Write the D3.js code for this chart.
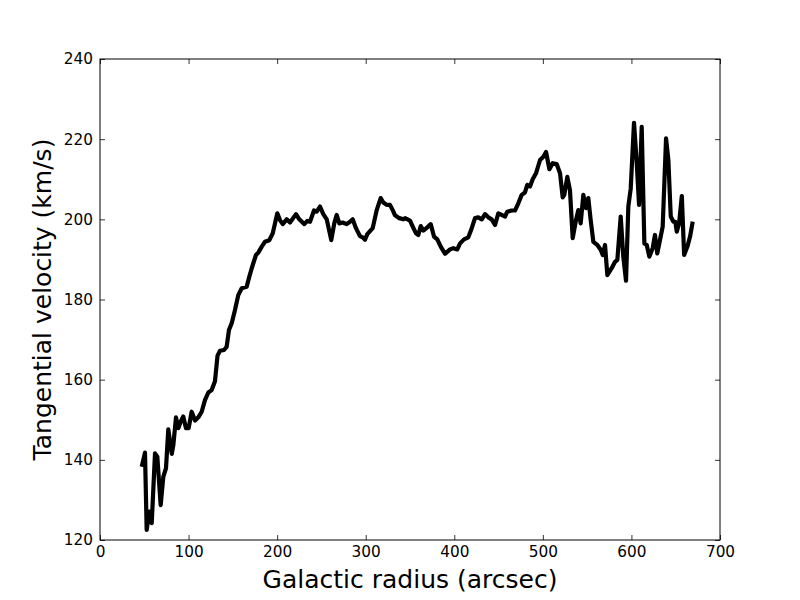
<!DOCTYPE html>
<html>
<head>
<meta charset="utf-8">
<script src="https://cdn.jsdelivr.net/npm/d3@7"></script>
<style>
  html, body { margin: 0; padding: 0; background: #fff; }
  svg { display: block; }
  text { font-family: "DejaVu Sans", sans-serif; fill: #000; }
</style>
</head>
<body>
<svg id="chart" width="800" height="600"></svg>
<script>
// ---- data ----
const radius = [
  47.1, 50.8, 52.7, 55.7, 58.4, 62.1, 64.7, 68.5, 71.5, 74.5,
  77.1, 81.0, 82.8, 85.8, 88.4, 91.1, 94.0, 97.1, 100.1, 103.5,
  107.3, 111.0, 114.8, 118.5, 122.3, 126.1, 129.8, 132.7, 135.5, 140.0,
  143.0, 145.6, 148.7, 152.4, 156.1, 160.0, 165.6, 168.6, 171.3, 176.1,
  178.7, 182.6, 186.3, 191.1, 195.0, 200.2, 203.2, 206.3, 210.8, 214.5,
  221.3, 225.0, 230.7, 234.1, 237.1, 241.6, 244.7, 248.4, 252.1, 256.0,
  261.1, 264.5, 267.2, 270.2, 274.0, 278.5, 282.3, 285.3, 289.0, 293.5,
  296.6, 299.2, 301.8, 307.9, 312.4, 316.9, 319.9, 323.7, 327.4, 330.5,
  333.1, 337.9, 342.4, 344.4, 350.0, 353.1, 356.8, 359.4, 362.1, 365.1,
  369.6, 373.4, 377.1, 380.8, 384.7, 389.5, 395.2, 398.9, 403.4, 406.5,
  411.0, 415.8, 419.7, 423.4, 427.1, 431.0, 434.7, 438.4, 442.2, 446.0,
  449.7, 453.5, 457.3, 459.8, 464.8, 468.5, 472.3, 476.1, 479.8, 482.4,
  485.5, 488.5, 492.3, 496.8, 500.6, 503.6, 507.4, 511.1, 515.6, 519.4,
  522.4, 524.2, 527.6, 530.6, 533.7, 537.4, 540.0, 542.7, 545.7, 548.7,
  551.3, 554.0, 557.0, 561.5, 565.3, 567.6, 570.2, 572.8, 577.7, 581.5,
  584.1, 587.9, 590.8, 593.9, 596.5, 599.2, 602.9, 605.9, 608.6, 611.6,
  614.6, 617.3, 620.2, 624.0, 626.6, 629.2, 632.3, 635.3, 639.1, 641.7,
  644.4, 647.4, 649.6, 651.2, 653.8, 656.9, 659.5, 663.2, 666.2, 669.2
];
const velocity = [
  138.3, 141.8, 122.5, 127.1, 124.2, 141.6, 140.8, 128.7, 135.8, 137.9,
  147.6, 141.5, 143.7, 150.6, 147.9, 149.5, 150.8, 147.9, 147.9, 152.0,
  149.8, 150.6, 152.0, 154.9, 156.8, 157.4, 159.6, 166.0, 167.2, 167.4,
  168.2, 172.4, 174.1, 177.4, 181.1, 182.8, 183.2, 185.7, 187.8, 191.1,
  191.7, 193.2, 194.4, 194.8, 196.5, 201.5, 199.8, 198.8, 200.0, 199.2,
  201.3, 200.0, 198.8, 199.6, 199.4, 202.2, 201.9, 203.2, 201.3, 200.0,
  194.8, 199.0, 201.1, 199.0, 199.2, 198.8, 199.4, 200.0, 197.8, 195.8,
  195.5, 194.9, 196.3, 197.8, 202.3, 205.3, 204.2, 203.6, 203.6, 202.3,
  201.0, 200.3, 200.0, 200.3, 199.7, 198.2, 196.5, 196.1, 198.3, 197.2,
  198.0, 198.8, 195.7, 195.0, 193.2, 191.4, 192.5, 192.8, 192.5, 194.0,
  195.0, 195.5, 197.8, 200.3, 200.5, 200.0, 201.3, 200.5, 200.0, 198.6,
  201.5, 201.1, 200.7, 201.9, 202.2, 202.2, 204.0, 206.1, 206.7, 208.6,
  208.2, 210.0, 211.5, 214.8, 215.6, 216.8, 212.5, 214.0, 213.8, 211.5,
  205.5, 206.1, 210.6, 207.3, 195.3, 199.8, 202.3, 199.0, 206.1, 202.8,
  205.3, 199.8, 194.4, 193.6, 192.4, 191.1, 193.6, 186.1, 187.8, 189.4,
  189.9, 200.7, 190.7, 184.7, 203.2, 207.7, 224.1, 214.4, 203.6, 223.1,
  194.0, 193.6, 190.7, 192.8, 196.1, 191.5, 194.9, 198.2, 220.2, 214.8,
  200.7, 199.4, 199.4, 196.9, 199.0, 205.8, 191.1, 193.2, 195.7, 199.4
];
const xTicks = [0, 100, 200, 300, 400, 500, 600, 700];
const yTicks = [120, 140, 160, 180, 200, 220, 240];
const xLabel = "Galactic radius (arcsec)";
const yLabel = "Tangential velocity (km/s)";

// ---- layout ----
const svg = d3.select("#chart");
const L = 100, R = 720, T = 59, B = 540;

const x = d3.scaleLinear().domain([0, 700]).range([L, R]);
const y = d3.scaleLinear().domain([120, 240]).range([B, T]);

const tickLen = 5;
const fmt = d3.format("d");

// Bottom axis (ticks inward)
const gB = svg.append("g").attr("transform", `translate(0,${B})`)
  .call(d3.axisBottom(x).tickValues(xTicks).tickFormat(fmt).tickSizeInner(-tickLen).tickSizeOuter(0).tickPadding(7));
// Top axis (ticks inward, no labels)
const gT = svg.append("g").attr("transform", `translate(0,${T})`)
  .call(d3.axisTop(x).tickValues(xTicks).tickFormat("").tickSizeInner(-tickLen).tickSizeOuter(0));
// Left axis
const gL = svg.append("g").attr("transform", `translate(${L},0)`)
  .call(d3.axisLeft(y).tickValues(yTicks).tickFormat(fmt).tickSizeInner(-tickLen).tickSizeOuter(0).tickPadding(7));
// Right axis
const gR = svg.append("g").attr("transform", `translate(${R},0)`)
  .call(d3.axisRight(y).tickValues(yTicks).tickFormat("").tickSizeInner(-tickLen).tickSizeOuter(0));

[gB, gT, gL, gR].forEach(g => {
  g.select(".domain").remove();
  g.selectAll(".tick line").attr("stroke", "#000").attr("stroke-width", 0.8);
  g.selectAll(".tick text")
    .style("font-family", "'DejaVu Sans', sans-serif")
    .style("font-size", "15.3px")
    .attr("fill", "#000");
});
gB.selectAll(".tick text").attr("dy", null).attr("y", 17);
gL.selectAll(".tick text").attr("x", -7);

// Line
const line = d3.line()
  .x((d, i) => x(radius[i]))
  .y((d, i) => y(velocity[i]));

svg.append("path")
  .datum(velocity)
  .attr("d", line)
  .attr("fill", "none")
  .attr("stroke", "#000")
  .attr("stroke-width", 4.2)
  .attr("stroke-linejoin", "round")
  .attr("stroke-linecap", "butt");

// Frame
svg.append("rect")
  .attr("x", L).attr("y", T)
  .attr("width", R - L).attr("height", B - T)
  .attr("fill", "none").attr("stroke", "#000").attr("stroke-width", 1);

// Axis labels
svg.append("text")
  .attr("x", (L + R) / 2).attr("y", 588)
  .attr("text-anchor", "middle")
  .style("font-size", "25px")
  .text(xLabel);

svg.append("text")
  .attr("transform", `translate(51,${(T + B) / 2}) rotate(-90)`)
  .attr("text-anchor", "middle")
  .style("font-size", "25px")
  .text(yLabel);
</script>
</body>
</html>
